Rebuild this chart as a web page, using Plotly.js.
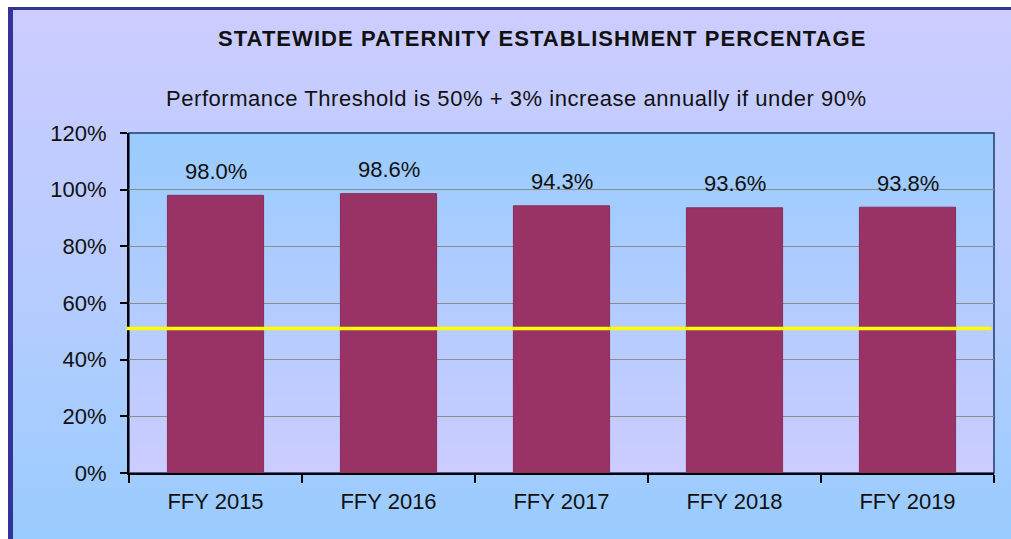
<!DOCTYPE html>
<html>
<head>
<meta charset="utf-8">
<script src="https://cdn.plot.ly/plotly-3.0.1.min.js"></script>
<style>
  html, body { margin: 0; padding: 0; background: #ffffff; width: 1011px; height: 539px; overflow: hidden; }
  #frame { position: absolute; left: 8px; top: 7px; width: 998px; height: 532px;
           border-left: 5px solid #333399; border-top: 3px solid #333399;
           background: linear-gradient(to bottom, #CCCCFF 0%, #B8CCFF 50%, #99CCFF 100%); }
  #chart { position: absolute; left: 0; top: 0; width: 1011px; height: 539px; }
</style>
</head>
<body>
<div id="frame"></div>
<div id="chart"></div>
<script>
const categories = ['FFY 2015', 'FFY 2016', 'FFY 2017', 'FFY 2018', 'FFY 2019'];
const values = [98.0, 98.6, 94.3, 93.6, 93.8];
const valueLabels = ['98.0%', '98.6%', '94.3%', '93.6%', '93.8%'];
const threshold = 51;
const titleText = 'STATEWIDE PATERNITY ESTABLISHMENT PERCENTAGE';
const subtitleText = 'Performance Threshold is 50% + 3% increase annually if under 90%';

const FONT = '"Liberation Sans", Arial, sans-serif';
const W = 1011, H = 539;
const M = { l: 129, r: 17, t: 133, b: 66 };
const plotH = H - M.t - M.b;
const paperY = (py) => (H - M.b - py) / plotH;

const plotBgSvg = '<svg xmlns="http://www.w3.org/2000/svg" width="100" height="100" preserveAspectRatio="none">' +
  '<defs><linearGradient id="g" x1="0" y1="0" x2="0" y2="1">' +
  '<stop offset="0" stop-color="#99CCFF"/><stop offset="1" stop-color="#CCCCFF"/>' +
  '</linearGradient></defs><rect width="100" height="100" fill="url(#g)"/></svg>';
const plotBgUri = 'data:image/svg+xml;charset=utf-8,' + encodeURIComponent(plotBgSvg);

const barTrace = {
  type: 'bar',
  x: categories,
  y: values,
  marker: { color: '#993366', line: { color: '#8a2d5c', width: 1 } },
  hoverinfo: 'skip',
  showlegend: false
};

const annotations = categories.map((c, i) => ({
  x: c, y: values[i], xref: 'x', yref: 'y',
  text: valueLabels[i], showarrow: false,
  yanchor: 'middle', yshift: 24,
  font: { family: FONT, size: 22, color: '#111111' }
}));

annotations.push({
  text: '<span style="letter-spacing:1.05px"><b>' + titleText + '</b></span>', xref: 'paper', yref: 'paper',
  x: 0.4775, y: paperY(38), xanchor: 'center', yanchor: 'middle', showarrow: false,
  font: { family: FONT, size: 22, color: '#111111' }
});
annotations.push({
  text: '<span style="letter-spacing:0.55px">' + subtitleText + '</span>', xref: 'paper', yref: 'paper',
  x: 0.4485, y: paperY(99), xanchor: 'center', yanchor: 'middle', showarrow: false,
  font: { family: FONT, size: 22, color: '#111111' }
});

const layout = {
  width: W, height: H,
  margin: M,
  paper_bgcolor: 'rgba(0,0,0,0)',
  plot_bgcolor: 'rgba(0,0,0,0)',
  bargap: 0.444,
  font: { family: FONT, size: 22, color: '#111111' },
  xaxis: {
    type: 'category',
    tickson: 'boundaries',
    ticks: 'outside', ticklen: 8, tickwidth: 2, tickcolor: '#000000',
    showline: true, linecolor: '#000000', linewidth: 2,
    showgrid: false,
    tickfont: { family: FONT, size: 22, color: '#111111' },
    ticklabelstandoff: 8,
    fixedrange: true
  },
  yaxis: {
    range: [0, 120], dtick: 20, tick0: 0,
    ticksuffix: '%',
    ticks: 'outside', ticklen: 7, tickwidth: 2, tickcolor: '#000000',
    showline: true, linecolor: '#000000', linewidth: 2,
    showgrid: true, gridcolor: '#8c8c8c', gridwidth: 1,
    zeroline: false,
    tickfont: { family: FONT, size: 22, color: '#111111' },
    ticklabelstandoff: 9,
    fixedrange: true
  },
  images: [{
    source: plotBgUri, xref: 'paper', yref: 'paper',
    x: 0, y: 1, sizex: 1, sizey: 1, xanchor: 'left', yanchor: 'top',
    sizing: 'stretch', layer: 'below'
  }],
  shapes: [
    { type: 'rect', xref: 'paper', yref: 'paper', x0: 0, x1: 1, y0: 0, y1: 1,
      line: { color: '#1F3A6A', width: 1.5 }, fillcolor: 'rgba(0,0,0,0)', layer: 'below' },
    { type: 'line', xref: 'paper', yref: 'y', x0: -0.003, x1: 0.997, y0: threshold, y1: threshold,
      line: { color: '#FFFF00', width: 3.5 }, layer: 'above' }
  ],
  annotations: annotations,
  showlegend: false
};

Plotly.newPlot('chart', [barTrace], layout, { displayModeBar: false, staticPlot: true });
</script>
</body>
</html>
